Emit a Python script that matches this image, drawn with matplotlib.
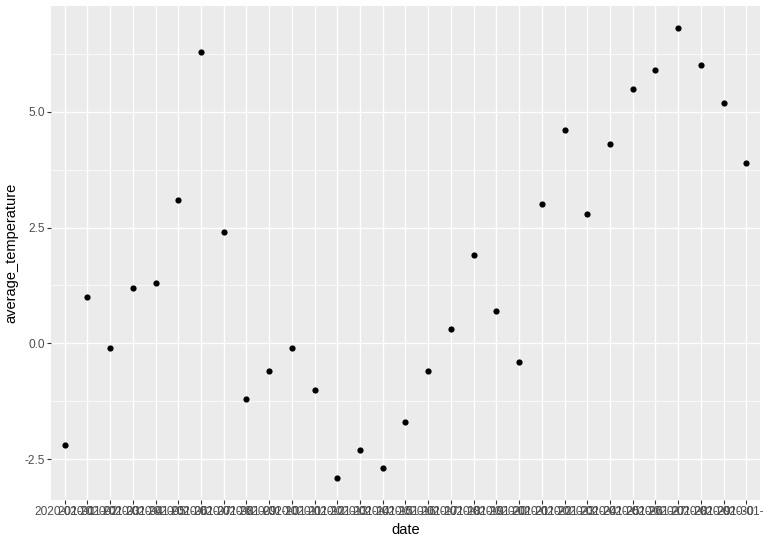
import numpy as np
import matplotlib
matplotlib.use("Agg")
import matplotlib.pyplot as plt
from matplotlib.ticker import FixedLocator

# daily dates in January 2020 (x is categorical)
dates = ["2020-01-%02d" % d for d in range(1, 32)]
average_temperature = [-2.2, 1.0, -0.1, 1.2, 1.3, 3.1, 6.3, 2.4, -1.2, -0.6,
                       -0.1, -1.0, -2.9, -2.3, -2.7, -1.7, -0.6, 0.3, 1.9, 0.7,
                       -0.4, 3.0, 4.6, 2.8, 4.3, 5.5, 5.9, 6.8, 6.0, 5.2, 3.9]

plt.rcParams['font.family'] = ['Liberation Sans', 'DejaVu Sans']

fig = plt.figure(figsize=(7.64, 5.41), dpi=100)
ax = fig.add_axes([51 / 764, 41 / 541, 709 / 764, 494 / 541])

xpos = np.arange(1, len(dates) + 1)
ax.set_facecolor("#EBEBEB")
ax.scatter(xpos, average_temperature, s=20, color="black", zorder=3, linewidths=0)

lo, hi = min(average_temperature), max(average_temperature)
pad = (hi - lo) * 0.05
ax.set_ylim(lo - pad, hi + pad)
ax.set_xlim(0.4, len(dates) + 0.6)

ax.set_xticks(xpos)
ax.set_xticklabels(dates)
ax.set_yticks([-2.5, 0.0, 2.5, 5.0])
ax.set_yticklabels(["-2.5", "0.0", "2.5", "5.0"])
ax.yaxis.set_minor_locator(FixedLocator([-1.25, 1.25, 3.75, 6.25]))

ax.grid(which="major", color="white", linewidth=1.0)
ax.grid(which="minor", axis="y", color="white", linewidth=0.5)
ax.set_axisbelow(True)
for s in ax.spines.values():
    s.set_visible(False)

ax.tick_params(axis="both", which="major", length=2.6, width=0.8, color="#333333",
               labelsize=8.6, labelcolor="#4D4D4D", pad=2)
ax.tick_params(axis="y", which="minor", length=0)

ax.set_xlabel("date", fontsize=10.56, color="black", labelpad=3)
ax.set_ylabel("average_temperature", fontsize=10.56, color="black", labelpad=4)

fig.savefig("out.png", dpi=100)
